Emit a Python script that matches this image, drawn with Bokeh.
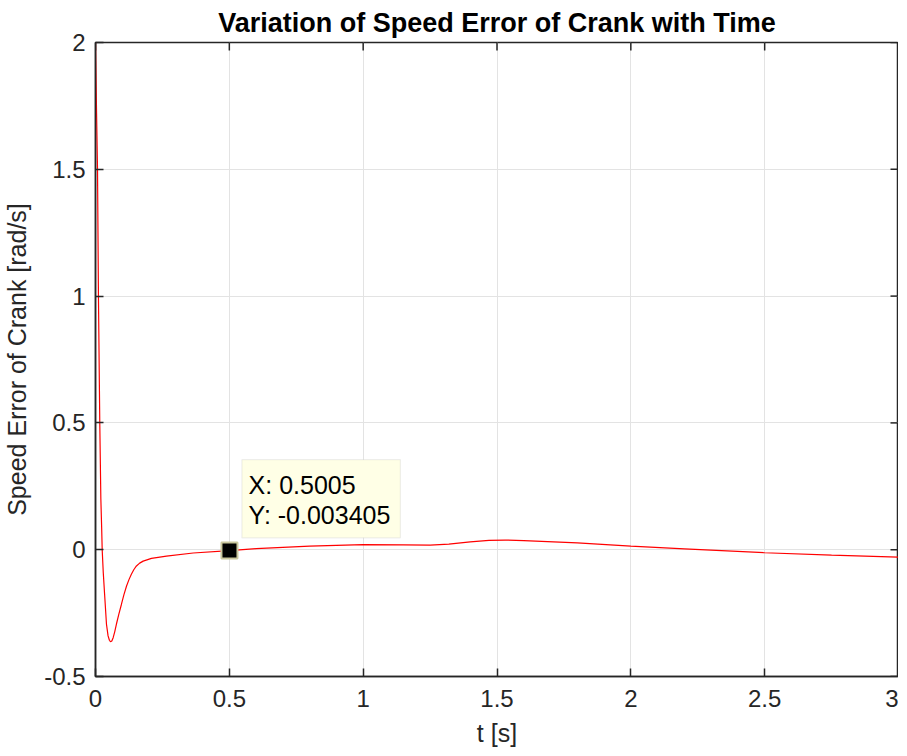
import math
from bokeh.plotting import figure
from bokeh.models import FixedTicker, BoxAnnotation, Label, ColumnDataSource
from bokeh.embed import file_html
from bokeh.resources import INLINE

# ---- data ----
t = [0.0, 0.004, 0.0075, 0.011, 0.016, 0.02, 0.023, 0.025, 0.029, 0.034, 0.041,
     0.047, 0.052, 0.056, 0.061, 0.066, 0.072, 0.078, 0.087, 0.097, 0.106, 0.116,
     0.125, 0.134, 0.143, 0.153, 0.165, 0.178, 0.209, 0.265, 0.365,
     0.5005, 0.6, 0.8, 1.0, 1.15, 1.25, 1.32, 1.4, 1.47, 1.53, 1.6, 1.8, 2.0,
     2.2, 2.5, 2.75, 3.0]
speed_err = [2.0, 1.72, 1.5, 1.0, 0.5, 0.2, 0.087, 0.0, -0.09, -0.176, -0.294,
             -0.34, -0.357, -0.363, -0.36, -0.347, -0.323, -0.294, -0.255, -0.215,
             -0.178, -0.143, -0.118, -0.097, -0.079, -0.064, -0.053, -0.045,
             -0.034, -0.025, -0.013,
             -0.003405, 0.004, 0.014, 0.02, 0.019, 0.018, 0.022,
             0.031, 0.037, 0.038, 0.036, 0.027, 0.014, 0.003, -0.012, -0.021, -0.029]

x_ticks = [0, 0.5, 1, 1.5, 2, 2.5, 3]
x_tick_labels = ["0", "0.5", "1", "1.5", "2", "2.5", "3"]
y_ticks = [-0.5, 0, 0.5, 1, 1.5, 2]
y_tick_labels = ["-0.5", "0", "0.5", "1", "1.5", "2"]

tip_x = 0.5005
tip_y = -0.003405

FONT = "Liberation Sans"
AXC = "#262626"

p = figure(frame_width=803, frame_height=634, x_range=(0, 3), y_range=(-0.5, 2),
           output_backend="svg", toolbar_location=None,
           title="Variation of Speed Error of Crank with Time",
           min_border_left=94, min_border_right=0, min_border_top=42,
           min_border_bottom=64)

p.title.text_font = FONT
p.title.text_font_size = "27px"
p.title.text_font_style = "bold"
p.title.text_color = "black"
p.title.align = "center"

p.outline_line_color = AXC
p.outline_line_width = 1.5
p.background_fill_color = "white"
p.border_fill_color = "white"

# main axes
xa = p.xaxis[0]
ya = p.yaxis[0]
xa.ticker = FixedTicker(ticks=x_ticks)
ya.ticker = FixedTicker(ticks=y_ticks)
xa.major_label_overrides = dict(zip(x_ticks, x_tick_labels))
ya.major_label_overrides = dict(zip(y_ticks, y_tick_labels))
xa.axis_label = "t [s]"
ya.axis_label = "Speed Error of Crank [rad/s]"
for ax in (xa, ya):
    ax.axis_line_color = AXC
    ax.axis_line_width = 1.5
    ax.major_tick_line_color = AXC
    ax.major_tick_line_width = 1.5
    ax.major_tick_in = 8
    ax.major_tick_out = 0
    ax.minor_tick_line_color = None
    ax.major_label_text_font = FONT
    ax.major_label_text_font_size = "24px"
    ax.major_label_text_color = AXC
    ax.axis_label_text_font = FONT
    ax.axis_label_text_font_size = "25px"
    ax.axis_label_text_font_style = "normal"
    ax.axis_label_text_color = AXC
xa.major_label_standoff = 13
ya.major_label_standoff = 10
xa.axis_label_standoff = 9
ya.axis_label_standoff = 10

p.xgrid.ticker = FixedTicker(ticks=x_ticks)
p.ygrid.ticker = FixedTicker(ticks=y_ticks)
for g in (p.xgrid[0], p.ygrid[0]):
    g.grid_line_color = "#e3e3e3"
    g.grid_line_width = 1

# inward ticks on the right and top edges (half of each dash is clipped by the frame)
p.scatter(x=[x_ticks[-1]] * len(y_ticks), y=y_ticks, marker="dash", size=16,
          line_color=AXC, line_width=1.5)
p.scatter(x=x_ticks, y=[y_ticks[-1]] * len(x_ticks), marker="dash", size=16,
          angle=math.pi / 2, line_color=AXC, line_width=1.5)

src = ColumnDataSource(dict(t=t, v=speed_err))
p.line("t", "v", source=src, line_color="red", line_width=1.2)

# data tip
p.scatter(x=[tip_x], y=[tip_y], marker="square", size=16, fill_color="black",
          line_color="#c9c69c", line_width=2)
box = BoxAnnotation(left=0.547, right=1.139, top=0.355, bottom=0.047,
                    fill_color="#ffffe6", fill_alpha=1.0,
                    line_color="#c8c8c8", line_width=1.2)
p.add_layout(box)
p.add_layout(Label(x=0.572, y=0.256, text=f"X: {tip_x}", text_font=FONT,
                   text_font_size="25px", text_color="black", text_baseline="middle"))
p.add_layout(Label(x=0.572, y=0.138, text=f"Y: {tip_y}", text_font=FONT,
                   text_font_size="25px", text_color="black", text_baseline="middle"))

open("out.html", "w").write(file_html(p, INLINE))
